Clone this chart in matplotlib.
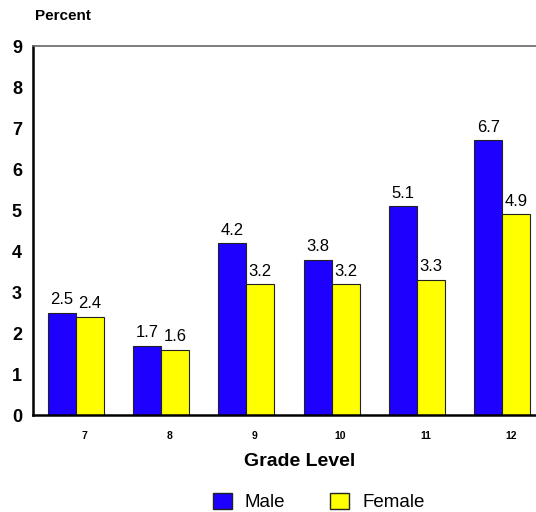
import numpy as np
import matplotlib
matplotlib.use('Agg')
import matplotlib.pyplot as plt
from matplotlib.patches import Patch

plt.rcParams['font.family'] = ['Liberation Sans', 'DejaVu Sans']

# 데이터
grades = ['7', '8', '9', '10', '11', '12']
male = [2.5, 1.7, 4.2, 3.8, 5.1, 6.7]
female = [2.4, 1.6, 3.2, 3.2, 3.3, 4.9]

blue = '#1E00FF'
yellow = '#FFFF00'

fig = plt.figure(figsize=(5.36, 5.12), dpi=100)
# 오른쪽 테두리는 그림 밖으로 나감
ax = fig.add_axes([0.0616, 0.1885, 0.955, 0.7215])

x = np.arange(len(grades))
w = 0.328
b1 = ax.bar(x - w / 2, male, w, color=blue, edgecolor='#222222', linewidth=0.8)
b2 = ax.bar(x + w / 2, female, w, color=yellow, edgecolor='#222222', linewidth=0.8)

# 막대 위 값 표시
for bars in (b1, b2):
    for r in bars:
        ax.annotate(f'{r.get_height():.1f}', (r.get_x() + r.get_width() / 2, r.get_height()),
                    xytext=(0, 4), textcoords='offset points', ha='center', va='bottom',
                    fontsize=12)

ax.set_xlim(-0.5, len(grades) - 0.5)
ax.set_ylim(0, 9)
ax.set_yticks(range(10))
ax.set_yticklabels([str(i) for i in range(10)], fontsize=13, fontweight='bold')
ax.set_xticks(x + 0.1)
ax.set_xticklabels(grades, fontsize=7.5, fontweight='bold')
ax.tick_params(axis='both', length=0)
ax.tick_params(axis='x', pad=11)
ax.tick_params(axis='y', pad=8)

ax.spines['right'].set_visible(False)
ax.spines['left'].set_linewidth(1.8)
ax.spines['bottom'].set_linewidth(1.8)
ax.spines['top'].set_color('#666666')
ax.spines['top'].set_linewidth(1.2)

ax.set_xlabel('Grade Level', fontsize=14, fontweight='bold', va='center')
ax.xaxis.set_label_coords(0.52, -0.125)
fig.text(0.066, 0.968, 'Percent', fontsize=11, fontweight='bold', ha='left', va='center')

handles = [Patch(facecolor=blue, edgecolor='#222222', label='Male'),
           Patch(facecolor=yellow, edgecolor='#222222', label='Female')]
fig.legend(handles=handles, loc='center', bbox_to_anchor=(0.595, 0.0195), ncol=2,
           frameon=False, fontsize=13.5, handlelength=1.0, handleheight=1.0,
           columnspacing=2.4, handletextpad=0.7, borderpad=0)

fig.savefig('out.png', dpi=100)
